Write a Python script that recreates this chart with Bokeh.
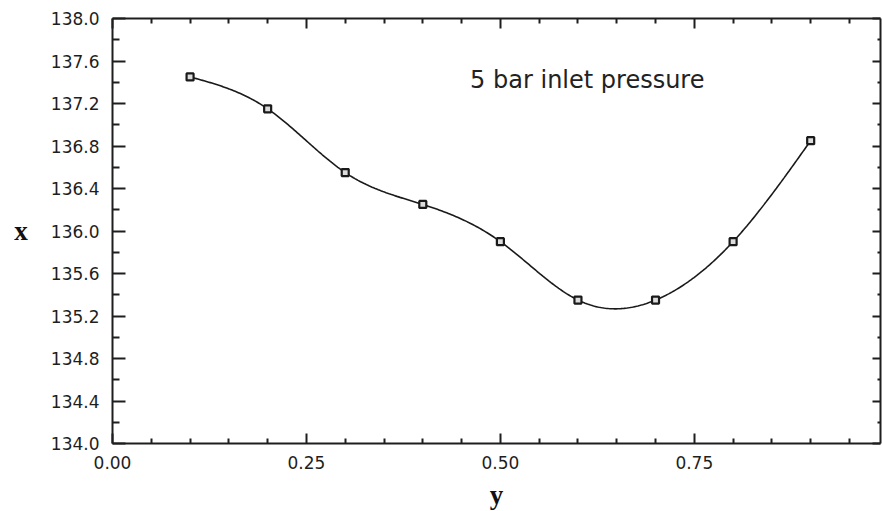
import numpy as np
from bokeh.plotting import figure
from bokeh.models import (LinearAxis, FixedTicker, PrintfTickFormatter,
                          CustomJSTickFormatter, Range1d, Label)
from bokeh.embed import file_html
from bokeh.resources import INLINE

# ---- data ----
x_vals = [0.1, 0.2, 0.3, 0.4, 0.5, 0.6, 0.7, 0.8, 0.9]
y_vals = [137.45, 137.15, 136.55, 136.25, 135.90, 135.35, 135.35, 135.90, 136.85]
x_ticks = [0.0, 0.25, 0.5, 0.75]
x_minor = [0.05, 0.10, 0.15, 0.20, 0.30, 0.35, 0.40, 0.45, 0.55, 0.60, 0.65,
           0.70, 0.80, 0.85, 0.90, 0.95]
y_ticks = [134.0, 134.4, 134.8, 135.2, 135.6, 136.0, 136.4, 136.8, 137.2, 137.6, 138.0]
y_minor = [134.2, 134.6, 135.0, 135.4, 135.8, 136.2, 136.6, 137.0, 137.4, 137.8]
annotation = "5 bar inlet pressure"
x_label = "y"
y_label = "x"


def natural_spline(xs, ys, n=400):
    xs = np.asarray(xs, float)
    ys = np.asarray(ys, float)
    k = len(xs)
    h = np.diff(xs)
    A = np.zeros((k, k))
    b = np.zeros(k)
    A[0, 0] = A[-1, -1] = 1.0
    for i in range(1, k - 1):
        A[i, i - 1] = h[i - 1]
        A[i, i] = 2 * (h[i - 1] + h[i])
        A[i, i + 1] = h[i]
        b[i] = 6 * ((ys[i + 1] - ys[i]) / h[i] - (ys[i] - ys[i - 1]) / h[i - 1])
    M = np.linalg.solve(A, b)
    xx = np.linspace(xs[0], xs[-1], n)
    yy = np.empty_like(xx)
    for j, xv in enumerate(xx):
        i = min(np.searchsorted(xs, xv, side="right") - 1, k - 2)
        t1 = xs[i + 1] - xv
        t0 = xv - xs[i]
        hi = h[i]
        yy[j] = (M[i] * t1 ** 3 / (6 * hi) + M[i + 1] * t0 ** 3 / (6 * hi)
                 + (ys[i] / hi - M[i] * hi / 6) * t1
                 + (ys[i + 1] / hi - M[i + 1] * hi / 6) * t0)
    return xx, yy


AX = "#1e1e1e"
FONT = "DejaVu Sans"

p = figure(frame_width=768, frame_height=425, output_backend="svg",
           toolbar_location=None, x_axis_location=None, y_axis_location=None,
           x_range=Range1d(0.0, 0.99), y_range=Range1d(134.0, 138.0),
           min_border_left=112, min_border_right=2, min_border_top=18,
           min_border_bottom=40, background_fill_color="white",
           border_fill_color="white", outline_line_color=None)
p.xgrid.visible = False
p.ygrid.visible = False

xt = FixedTicker(ticks=x_ticks, minor_ticks=x_minor)
yt = FixedTicker(ticks=y_ticks, minor_ticks=y_minor)
blank = CustomJSTickFormatter(code="return ''")


def style(ax, tin, tmin):
    ax.axis_line_color = AX
    ax.axis_line_width = 2
    ax.major_tick_line_color = AX
    ax.minor_tick_line_color = AX
    ax.major_tick_line_width = 2
    ax.minor_tick_line_width = 2
    ax.major_tick_in = tin
    ax.major_tick_out = 0
    ax.minor_tick_in = tmin
    ax.minor_tick_out = 0


bottom = LinearAxis(ticker=xt, formatter=PrintfTickFormatter(format="%.2f"),
                    axis_label=x_label)
style(bottom, 10, 5)
bottom.major_label_text_font = FONT
bottom.major_label_text_font_size = "17px"
bottom.major_label_text_color = AX
bottom.major_label_standoff = 12
bottom.axis_label_text_font = "Liberation Serif"
bottom.axis_label_text_font_style = "bold"
bottom.axis_label_text_font_size = "27px"
bottom.axis_label_text_color = "#111111"
bottom.axis_label_standoff = 8
p.add_layout(bottom, "below")

left = LinearAxis(ticker=yt, formatter=PrintfTickFormatter(format="%.1f"),
                  axis_label=y_label)
style(left, 13, 7)
left.major_label_text_font = FONT
left.major_label_text_font_size = "17px"
left.major_label_text_color = AX
left.major_label_standoff = 13
left.axis_label_orientation = "horizontal"
left.axis_label_text_font = "Liberation Serif"
left.axis_label_text_font_style = "bold"
left.axis_label_text_font_size = "27px"
left.axis_label_text_color = "#111111"
left.axis_label_standoff = 20
p.add_layout(left, "left")

top = LinearAxis(ticker=xt, formatter=blank)
style(top, 10, 5)
top.major_label_text_font_size = "0px"
top.major_label_standoff = 0
p.add_layout(top, "above")

right = LinearAxis(ticker=yt, formatter=blank)
style(right, 8, 3)
right.major_label_text_font_size = "0px"
right.major_label_standoff = 0
p.add_layout(right, "right")

sx, sy = natural_spline(x_vals, y_vals)
p.line(sx, sy, line_color="#1a1a1a", line_width=1.6)
p.scatter(x_vals, y_vals, marker="square", size=7, line_color="#1a1a1a",
          line_width=2.2, fill_color="#dddddd")

p.add_layout(Label(x=0.461, y=137.42, text=annotation, text_font=FONT,
                   text_font_size="24px", text_baseline="middle",
                   text_color="#222222"))

open("out.html", "w").write(file_html(p, INLINE))
